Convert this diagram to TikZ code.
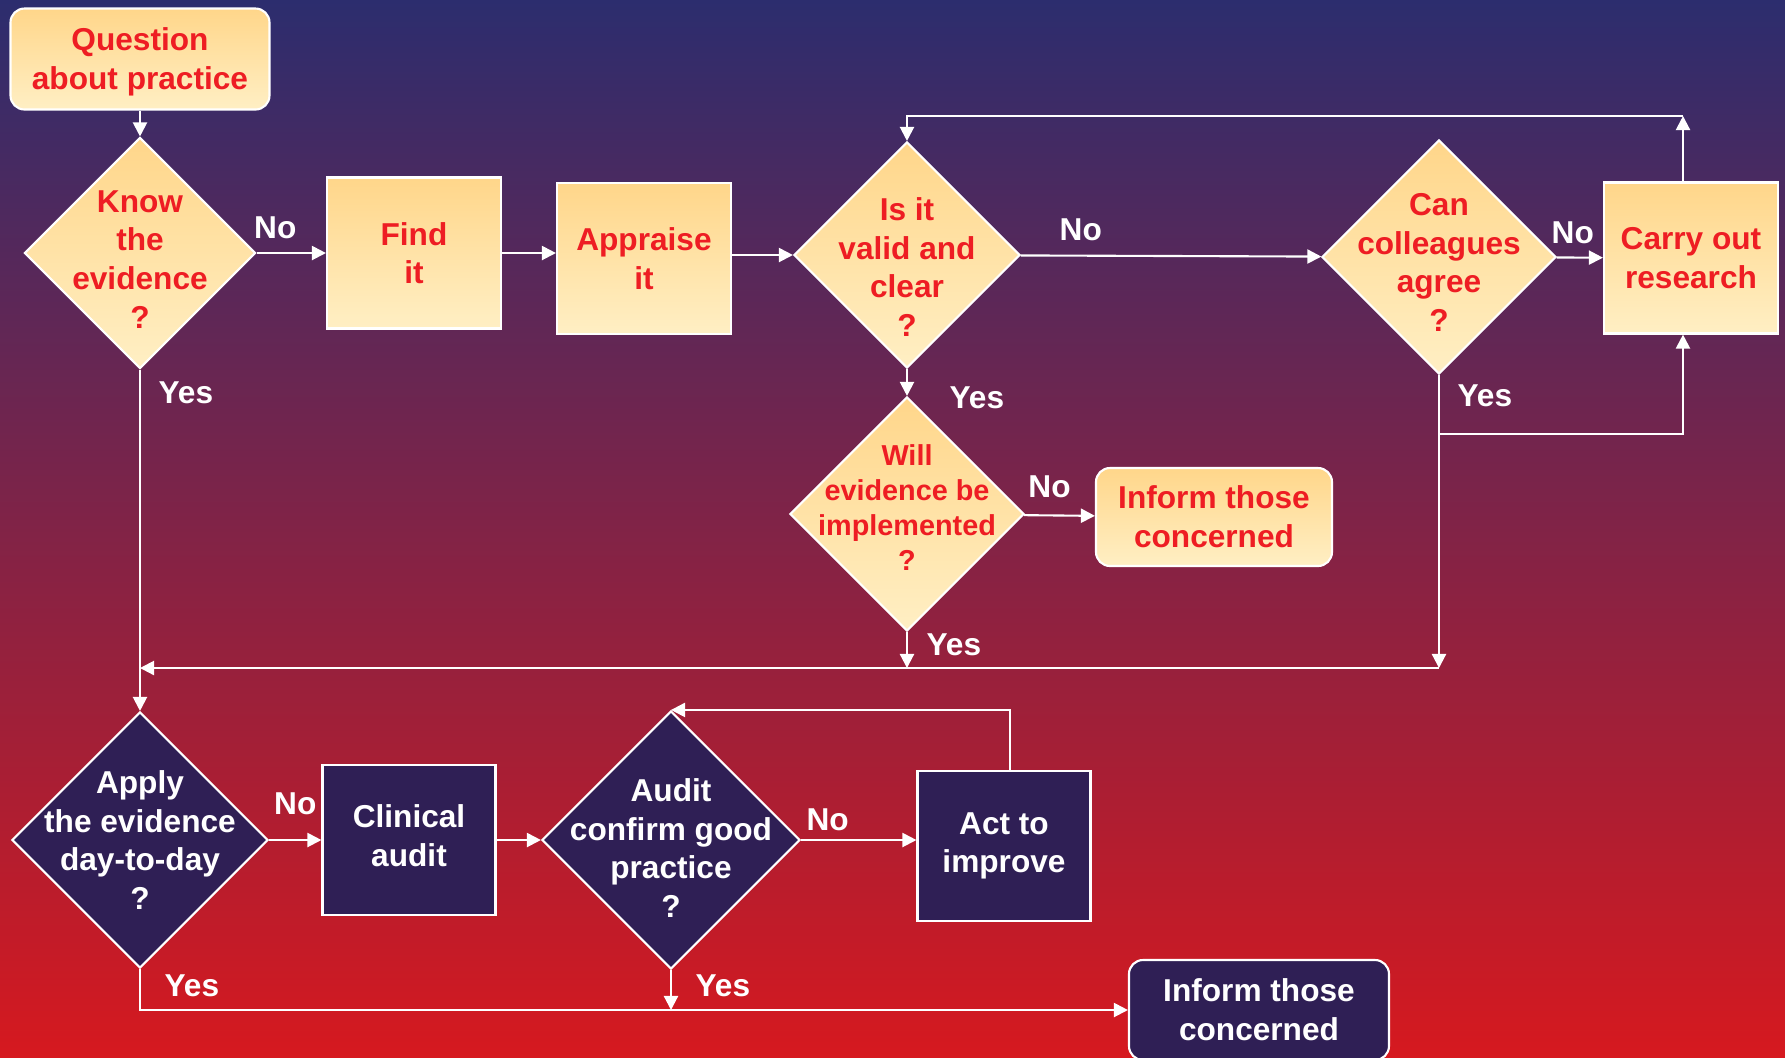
\documentclass[tikz,border=0pt]{standalone}
\usepackage{fontspec}
\setmainfont{Liberation Sans}
\usetikzlibrary{shapes.geometric, arrows.meta, positioning}
\definecolor{bgtop}{HTML}{2C2D6E}
\definecolor{bgmid}{HTML}{88224A}
\definecolor{bgbot}{HTML}{D6191F}
\definecolor{paletop}{HTML}{FFD68A}
\definecolor{palebot}{HTML}{FFEFC4}
\definecolor{qred}{HTML}{EE1D23}
\definecolor{navy}{HTML}{2F1F55}
\tikzset{
    myarrow/.style={draw=white, line width=0.6pt, -{Triangle[length=4pt, width=4pt]}},
    txt/.style={font=\fontsize{9}{11}\selectfont\bfseries, align=center},
    pale/.style={top color=paletop, bottom color=palebot, text=qred},
    dark/.style={fill=navy, text=white},
    box/.style={draw=white, rectangle, txt, line width=0.6pt, minimum width=17.4mm, minimum height=15.1mm},
    startbox/.style={box, rounded corners=1.4mm},
    decision/.style={draw=white, diamond, txt, line width=0.6pt, inner sep=-4mm},
    lbl/.style={txt, text=white, inner sep=1pt}
}

\begin{document}
\begin{tikzpicture}[x=0.1mm, y=-0.1mm, node distance=2.5cm]
    \useasboundingbox (0,0) rectangle (1785,1057);
    \clip (0,0) rectangle (1785,1057);
    \shade [top color=bgtop, middle color=bgmid, bottom color=bgbot] (0,0) rectangle (1785,1057);

    % top row
    \node (question) [startbox, pale, minimum width=25.9mm, minimum height=10.1mm] at (140,59) {\rule{0pt}{8.2pt}Question\\about practice};
    \node (know) [decision, pale, minimum size=23.1mm, below of=question, yshift=5.6mm] {\rule{0pt}{9.8pt}Know\\the\\evidence\\?};
    \node (find) [box, pale, right of=know, xshift=2.4mm] {Find\\it};
    \node (appraise) [box, pale, right of=find, xshift=-2mm, yshift=-0.57mm] {Appraise\\it};
    \node (valid) [decision, pale, minimum size=22.6mm, right of=appraise, xshift=1.3mm, yshift=0.37mm] {\rule{0pt}{13.4pt}Is it\\valid and\\clear\\?};
    \node (can) [decision, pale, minimum size=23.4mm, right of=valid, xshift=28.2mm, yshift=-0.2mm] {\rule{0pt}{9.3pt}Can\\colleagues\\agree\\?};
    \node (carry) [box, pale, right of=can, xshift=0.2mm, yshift=-0.1mm] {Carry out\\research};
    \node (will) [decision, pale, minimum size=23.4mm, below of=valid, yshift=-0.9mm, font=\fontsize{8.2}{10}\selectfont\bfseries] {Will\\evidence be\\implemented\\?\rule[-3.6pt]{0pt}{3.6pt}};
    \node (informA) [startbox, pale, minimum width=23.6mm, minimum height=9.8mm, right of=will, xshift=5.7mm, yshift=-0.3mm] {Inform those\\concerned};

    % bottom row
    \node (apply) [decision, dark, minimum size=25.6mm, below of=know, yshift=-33.7mm] {Apply\\the evidence\\day-to-day\\?};
    \node (clinical) [box, dark, minimum width=17.3mm, minimum height=15mm, right of=apply, xshift=1.9mm] {Clinical\\audit\rule[-2.6pt]{0pt}{2.6pt}};
    \node (audit) [decision, dark, minimum size=25.8mm, right of=clinical, xshift=1.2mm] {\rule{0pt}{11.1pt}Audit\\confirm good\\practice\\?};
    \node (act) [box, dark, minimum width=17.3mm, minimum height=15mm, right of=audit, xshift=8.3mm, yshift=-0.6mm] {Act to\\improve};
    \node (informB) [startbox, dark, minimum width=26mm, minimum height=10mm, below of=act, xshift=25.5mm, yshift=8.6mm] {Inform those\\concerned};

    \coordinate (topturn) at (1683,116);
    \coordinate (branchY) at (0,434);
    \coordinate (mergeY) at (0,668);

    \draw [myarrow] (question) -- (know);
    \draw [myarrow] (know) -- node[lbl, pos=0.27, above, yshift=1mm] (noA) {No} (find);
    \draw [myarrow] (find) -- (find -| appraise.west);
    \draw [myarrow] (appraise.east |- valid) -- (valid);
    \draw [myarrow] (valid) -- node[lbl, pos=0.2, above, yshift=1mm] (noB) {No} (can);
    \draw [myarrow] (can) -- node[lbl, pos=0.35, above, yshift=0.9mm] (noC) {No} (carry);
    \draw [myarrow] (carry.north -| topturn) -- (topturn);
    \draw [myarrow] (topturn) -| (valid.north);
    \draw [myarrow] (valid) -- node[lbl, pos=0.95, right, xshift=3.8mm, yshift=-0.3mm] (yesA) {Yes} (will);
    \draw [myarrow] (will) -- node[lbl, pos=0.36, above, yshift=1.3mm] (noD) {No} (informA);
    \draw [myarrow] (will.south) -- node[lbl, pos=0.36, right, xshift=1.5mm] (yesB) {Yes} (will.south |- mergeY);
    \draw [myarrow] (can.south) -- node[lbl, pos=0.07, right, xshift=1.4mm] (yesC) {Yes} (can.south |- mergeY);
    \draw [myarrow] (can.south |- branchY) -| ([xshift=-0.8mm]carry.south);
    \draw [myarrow] (can.south |- mergeY) -- (know.south |- mergeY);
    \draw [myarrow] (know) -- node[lbl, pos=0.067, right, xshift=1.4mm] (yesD) {Yes} (apply);

    \draw [myarrow] (apply) -- node[lbl, pos=0.5, above, yshift=2.1mm] (noE) {No} (clinical);
    \draw [myarrow] (clinical) -- (audit);
    \draw [myarrow] (audit.east) -- node[lbl, pos=0.23, above, yshift=0.5mm] (noF) {No} (audit.east -| act.west);
    \draw [myarrow] ([xshift=0.6mm]act.north) |- (audit.north);
    \draw [myarrow] (apply.south) |- node[lbl, pos=0.21, right, xshift=2mm] (yesE) {Yes} (informB.west);
    \draw [myarrow] (audit.south) -- node[lbl, pos=0.4, right, xshift=2mm] (yesF) {Yes} (audit.south |- informB.west);
\end{tikzpicture}
\end{document}
